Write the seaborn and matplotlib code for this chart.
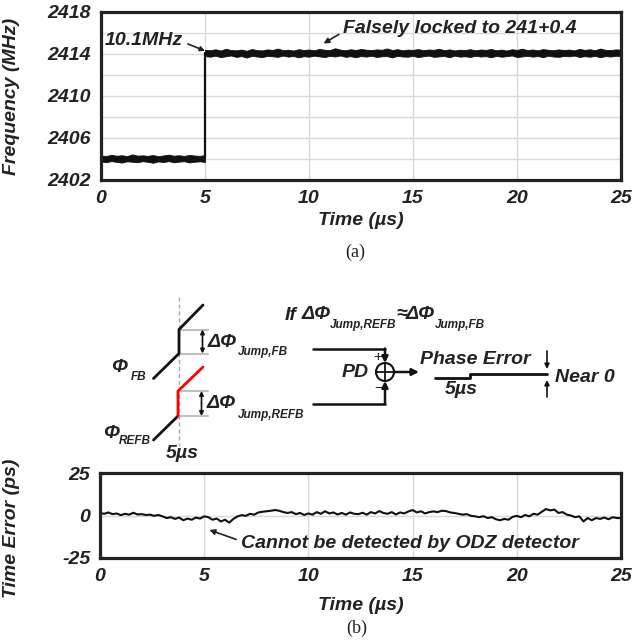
import numpy as np
import matplotlib
matplotlib.use("Agg")
import matplotlib.pyplot as plt
import seaborn as sns
from matplotlib.patches import Circle

# ---------------- data ----------------
x_ticks = [0, 5, 10, 15, 20, 25]
freq_yticks = [2402, 2406, 2410, 2414, 2418]
freq_ygrid = [2404, 2408, 2412, 2416]
te_yticks = [-25, 0, 25]

# noisy frequency trace before the jump (0..5 us): band envelopes (MHz)
lo_upper = [2404.33, 2404.29, 2404.40, 2404.31, 2404.36, 2404.28, 2404.44, 2404.32, 2404.35, 2404.30,
            2404.38, 2404.27, 2404.34, 2404.42, 2404.31, 2404.36, 2404.29, 2404.39, 2404.33, 2404.30, 2404.37]
lo_lower = [2403.76, 2403.70, 2403.80, 2403.72, 2403.66, 2403.78, 2403.74, 2403.69, 2403.79, 2403.73,
            2403.64, 2403.77, 2403.71, 2403.80, 2403.68, 2403.75, 2403.79, 2403.67, 2403.74, 2403.78, 2403.72]
# after the jump (5..25 us)
hi_upper = [2414.40, 2414.36, 2414.45, 2414.33, 2414.50, 2414.38, 2414.35, 2414.42, 2414.31, 2414.47,
            2414.37, 2414.34, 2414.44, 2414.39, 2414.52, 2414.36, 2414.41, 2414.33, 2414.46, 2414.38,
            2414.43, 2414.35, 2414.49, 2414.40, 2414.37, 2414.55, 2414.42, 2414.36, 2414.45, 2414.39,
            2414.48, 2414.41, 2414.37, 2414.44, 2414.40, 2414.53, 2414.38, 2414.46, 2414.35, 2414.42,
            2414.39, 2414.47, 2414.36, 2414.43, 2414.40, 2414.50, 2414.37, 2414.44, 2414.34, 2414.41,
            2414.38, 2414.46, 2414.35, 2414.43, 2414.39, 2414.48, 2414.36, 2414.42, 2414.33, 2414.45,
            2414.39, 2414.51, 2414.37, 2414.43, 2414.35, 2414.47, 2414.40, 2414.36, 2414.44, 2414.38,
            2414.42, 2414.34, 2414.49, 2414.39, 2414.45, 2414.36, 2414.52, 2414.40, 2414.37, 2414.44, 2414.41]
hi_lower = [2413.80, 2413.74, 2413.84, 2413.70, 2413.78, 2413.86, 2413.72, 2413.80, 2413.66, 2413.82,
            2413.76, 2413.70, 2413.83, 2413.78, 2413.73, 2413.85, 2413.75, 2413.81, 2413.68, 2413.79,
            2413.74, 2413.84, 2413.77, 2413.71, 2413.82, 2413.76, 2413.86, 2413.73, 2413.79, 2413.69,
            2413.81, 2413.75, 2413.84, 2413.72, 2413.78, 2413.80, 2413.67, 2413.83, 2413.76, 2413.74,
            2413.82, 2413.70, 2413.79, 2413.85, 2413.73, 2413.77, 2413.81, 2413.69, 2413.84, 2413.75,
            2413.78, 2413.72, 2413.83, 2413.76, 2413.80, 2413.68, 2413.82, 2413.74, 2413.79, 2413.86,
            2413.71, 2413.77, 2413.83, 2413.75, 2413.80, 2413.70, 2413.84, 2413.76, 2413.73, 2413.81,
            2413.78, 2413.85, 2413.72, 2413.79, 2413.74, 2413.82, 2413.69, 2413.80, 2413.76, 2413.83, 2413.78]
jump_time = [5.0, 5.0]
jump_freq = [2404.05, 2414.10]

# time error trace (ps), sampled every 0.2 us from 0 to 25 us
te_values = [1.5, 1.0, 1.8, 0.8, 1.2, 0.2, 1.0, 0.5, 1.6, 0.6,
             0.8, 0.3, 0.5, -0.2, 0.3, -0.5, -1.5, -1.0, -2.0, -1.2,
             -2.8, -1.8, -2.5, -1.2, -1.8, -0.5, -1.0, -2.5, -1.8, -3.5,
             -2.5, -4.2, -2.0, -0.5, 0.2, -0.2, 1.0, 0.5, 1.8, 2.2,
             2.5, 2.8, 3.2, 2.8, 2.0, 1.5, 2.0, 0.8, 1.5, 0.3,
             1.2, 0.5, 2.0, 1.0, 2.5, 1.2, 1.8, 0.6, 1.5, 0.5,
             1.8, 1.0, 0.8, 1.6, 0.5, 2.0, 1.2, 2.6, 1.5, 1.0,
             2.0, 0.6, 1.8, 1.2, 2.4, 3.2, 1.8, 2.5, 1.2, 2.0,
             2.4, 2.0, 2.8, 2.6, 1.8, 1.5, 1.0, 0.5, 0.8, -0.2,
             -0.5, -1.0, -0.4, -1.5, -1.0, -2.2, -2.8, -2.0, -2.5, -0.8,
             -0.2, -1.0, 0.3, -0.5, 1.0, 0.5, 2.2, 3.8, 3.0, 3.5,
             1.5, 2.0, 0.5, 0.0, -1.0, -0.5, -3.5, -1.5, -2.8, -1.5,
             -2.0, -1.2, -2.2, -1.0, -1.5, -1.5]

lo_time = np.linspace(0, 5, len(lo_upper))
hi_time = np.linspace(5, 25, len(hi_upper))
te_time = np.linspace(0, 25, len(te_values))

# ---------------- style ----------------
sns.set_theme(style="white")
plt.rcParams['font.family'] = ['Liberation Sans', 'DejaVu Sans']
plt.rcParams['font.weight'] = 'bold'
plt.rcParams['font.style'] = 'italic'
plt.rcParams['axes.labelweight'] = 'bold'
plt.rcParams['axes.unicode_minus'] = False
TXT = '#222222'
GRID = '#d9d9d9'

fig = plt.figure(figsize=(6.34, 6.42), dpi=100)
W, H = 634, 642
ax1 = fig.add_axes([101 / W, 1 - 180 / H, 520 / W, 168 / H])
ax2 = fig.add_axes([100 / W, 1 - 558 / H, 521 / W, 85 / H])

def style_axes(ax):
    for sp in ax.spines.values():
        sp.set_linewidth(2.3)
        sp.set_color(TXT)
        sp.set_visible(True)
    ax.tick_params(which='both', length=0, pad=7, labelsize=14, labelcolor=TXT)
    ax.set_xlim(0, 25)
    ax.set_xticks(x_ticks)
    ax.set_axisbelow(True)

# ---- (a) frequency ----
style_axes(ax1)
ax1.set_ylim(2402, 2418)
ax1.set_yticks(freq_yticks)
ax1.set_yticks(freq_ygrid, minor=True)
ax1.grid(True, which='both', axis='y', color=GRID, lw=1)
ax1.grid(True, which='major', axis='x', color=GRID, lw=1)
ax1.fill_between(lo_time, lo_lower, lo_upper, color='#111111', lw=0.6, edgecolor='#111111')
ax1.fill_between(hi_time, hi_lower, hi_upper, color='#111111', lw=0.6, edgecolor='#111111')
sns.lineplot(x=jump_time, y=jump_freq, ax=ax1, color='#111111', lw=1.6, estimator=None, sort=False)
ax1.set_xlabel('Time (µs)', fontsize=14, color=TXT, labelpad=4)
ax1.set_ylabel('Frequency (MHz)', fontsize=14, color=TXT)
ax1.yaxis.set_label_coords(-0.156, 0.5)
ax1.annotate('10.1MHz', xy=(5.0, 2414.3), xytext=(0.2, 2415.3), ha='left', va='center',
             fontsize=14, color=TXT,
             arrowprops=dict(arrowstyle='-|>', color=TXT, lw=1.2, mutation_scale=7,
                             shrinkA=1, shrinkB=0, relpos=(1.0, 0.4)))
ax1.annotate('Falsely locked to 241+0.4', xy=(10.7, 2415.0), xytext=(11.65, 2416.45),
             ha='left', va='center', fontsize=14, color=TXT,
             arrowprops=dict(arrowstyle='-|>', color=TXT, lw=1.2, mutation_scale=8,
                             shrinkA=1, shrinkB=0, relpos=(0.0, 0.3)))

# ---- (b) time error ----
style_axes(ax2)
ax2.set_ylim(-25, 25)
ax2.set_yticks(te_yticks)
ax2.grid(True, which='major', color=GRID, lw=1)
sns.lineplot(x=te_time, y=te_values, ax=ax2, color='#111111', lw=1.5, estimator=None)
ax2.set_xlabel('Time (µs)', fontsize=14, color=TXT, labelpad=9)
ax2.set_ylabel('Time Error (ps)', fontsize=14, color=TXT)
ax2.yaxis.set_label_coords(-0.154, 0.35)
ax2.annotate('Cannot be detected by ODZ detector', xy=(5.25, -8.5), xytext=(6.75, -16.5),
             ha='left', va='center', fontsize=14, color=TXT,
             arrowprops=dict(arrowstyle='-|>', color=TXT, lw=1.2, mutation_scale=8,
                             shrinkA=1, shrinkB=0, relpos=(0.0, 0.65)))

# ---------------- overlay diagram (pixel coordinates) ----------------
ov = fig.add_axes([0, 0, 1, 1], zorder=5)
ov.set_xlim(0, W)
ov.set_ylim(H, 0)
ov.axis('off')

def txt(x, y, s, size=14, ha='left', va='center', **kw):
    ov.text(x, y, s, fontsize=size, ha=ha, va=va, color=TXT, **kw)

def arrow(x0, y0, x1, y1, style='-|>', ms=8, lw=1.5):
    ov.annotate('', xy=(x1, y1), xytext=(x0, y0),
                arrowprops=dict(arrowstyle=style, color='#111111', lw=lw,
                                mutation_scale=ms, shrinkA=0, shrinkB=0))

serif = dict(family=['Liberation Serif', 'DejaVu Serif'], style='normal', weight='normal')
txt(355, 252, '(a)', size=13, ha='center', **serif)
txt(357, 628, '(b)', size=13, ha='center', **serif)

K = '#111111'
GR = '#c0c0c0'
# dashed 5us marker
ov.plot([179, 179], [297, 446], color='#aaaaaa', lw=1, ls=(0, (3, 2)))
# phi FB
ov.plot([179, 208], [329.5, 329.5], color=GR, lw=1.5)
ov.plot([179, 208], [353.5, 353.5], color=GR, lw=1.5)
ov.plot([153.5, 179, 179, 203], [378.5, 353.5, 329.5, 305], color=K, lw=2)
arrow(202.5, 341, 202.5, 329.5, ms=6, lw=1.2)
arrow(202.5, 341, 202.5, 353.5, ms=6, lw=1.2)
txt(208, 342.5, 'ΔΦ', size=14)
txt(238, 352.5, 'Jump,FB', size=8.5)
txt(111, 367.5, 'Φ', size=14)
txt(130.5, 377.5, 'FB', size=8.5)
# phi REFB
ov.plot([178, 208], [391, 391], color=GR, lw=1.5)
ov.plot([178, 208], [416, 416], color=GR, lw=1.5)
ov.plot([153.5, 178], [440, 416], color=K, lw=2)
ov.plot([178, 178, 203], [416, 391, 367], color='#ff0000', lw=2)
arrow(201.5, 403.5, 201.5, 391, ms=6, lw=1.2)
arrow(201.5, 403.5, 201.5, 416, ms=6, lw=1.2)
txt(207, 404, 'ΔΦ', size=14)
txt(238, 415, 'Jump,REFB', size=8.5)
txt(103, 433, 'Φ', size=14)
txt(119, 441, 'REFB', size=8.5)
txt(182, 453, '5µs', size=14, ha='center')

# condition text
txt(285, 316, 'If', size=14)
txt(301.5, 314.5, 'ΔΦ', size=14)
txt(330, 325, 'Jump,REFB', size=8.5)
txt(396, 314.5, '≈', size=14)
txt(406, 314.5, 'ΔΦ', size=14)
txt(435, 325, 'Jump,FB', size=8.5)

# phase detector
ov.plot([313, 385], [348.5, 348.5], color=K, lw=1.8)
arrow(385, 348.5, 385, 363, ms=9, lw=1.8)
ov.plot([313, 385], [404, 404], color=K, lw=1.8)
arrow(385, 404, 385, 381, ms=9, lw=1.8)
ov.add_patch(Circle((385, 372), 9, fill=False, ec=K, lw=1.5))
ov.plot([376, 394], [372, 372], color=K, lw=1.3)
ov.plot([385, 385], [363, 381], color=K, lw=1.3)
arrow(394, 372, 419, 372, ms=10, lw=1.8)
txt(377.5, 357.5, '+', size=11, ha='center', weight='normal', style='normal')
txt(379, 387.5, '−', size=11, ha='center', weight='normal', style='normal')
txt(369, 372.5, 'PD', size=14, ha='right')
txt(420, 360, 'Phase Error', size=14)
ov.plot([435, 470, 470, 547], [378, 378, 374, 374], color=K, lw=2)
txt(445, 390, '5µs', size=14)
arrow(547, 351, 547, 369, ms=7, lw=1.2)
arrow(547, 397, 547, 380, ms=7, lw=1.2)
txt(555, 377, 'Near 0', size=14)

fig.savefig('out.png', dpi=100)
